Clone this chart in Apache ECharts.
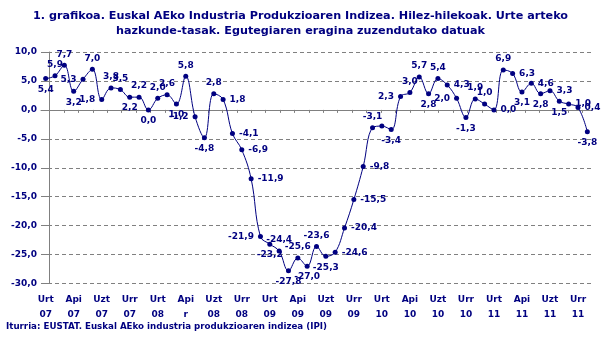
<!DOCTYPE html>
<html>
<head>
<meta charset="utf-8">
<script src="https://cdn.jsdelivr.net/npm/echarts@6/dist/echarts.min.js"></script>
<style>
  html, body { margin: 0; padding: 0; background: #fff; }
  #chart { width: 601px; height: 348px; }
</style>
</head>
<body>
<div id="chart"></div>
<script>
// Monthly periods, January 2007 to November 2011
const months = ['Urt', 'Ots', 'Mar', 'Api', 'Mai', 'Eka', 'Uzt', 'Abu', 'Ira', 'Urr', 'aza', 'Abe'];
const years = ['07', '08', '09', '10', '11'];

// Quarter tick labels shown under the axis
const tickLabels = [
  'Urt\n07', 'Api\n07', 'Uzt\n07', 'Urr\n07',
  'Urt\n08', 'Api\nr', 'Uzt\n08', 'Urr\n08',
  'Urt\n09', 'Api\n09', 'Uzt\n09', 'Urr\n09',
  'Urt\n10', 'Api\n10', 'Uzt\n10', 'Urr\n10',
  'Urt\n11', 'Api\n11', 'Uzt\n11', 'Urr\n11'
];

// Year-on-year growth rate of the industrial production index (%)
const rate2007 = [5.4, 5.9, 7.7, 3.2, 5.3, 7.0, 1.8, 3.8, 3.5, 2.2, 2.2, 0.0];
const rate2008 = [2.0, 2.6, 1.0, 5.8, -1.2, -4.8, 2.8, 1.8, -4.1, -6.9, -11.9, -21.9];
const rate2009 = [-23.2, -24.4, -27.8, -25.6, -27.0, -23.6, -25.3, -24.6, -20.4, -15.5, -9.8, -3.1];
const rate2010 = [-2.8, -3.4, 2.3, 3.0, 5.7, 2.8, 5.4, 4.3, 2.0, -1.3, 1.9, 1.0];
const rate2011 = [0.0, 6.9, 6.3, 3.1, 4.6, 2.8, 3.3, 1.5, 1.0, 0.4, -3.8];

// Points whose value label is not printed
const unlabeled = [36];

const values = [].concat(rate2007, rate2008, rate2009, rate2010, rate2011);
const categories = values.map((v, i) => months[i % 12] + ' ' + years[Math.floor(i / 12)]);

// Label placement for each point: [position, dx, dy]
const labelSide = [
  ['bottom', 0, 0], ['top', -7, 2], ['top', 0, 0], ['bottom', -4, 0], ['left', 0, 0],
  ['top', 0, 0], ['left', 0, 0], ['top', 0, 0], ['top', 4, 0], ['bottom', -6, 0],
  ['top', 0, 0], ['bottom', 0, 0], ['top', 0, 0], ['top', 3, 0], ['bottom', 0, 0],
  ['top', 0, 0], ['left', 0, 0], ['bottom', 0, 0], ['top', 0, 0], ['right', 0, 0],
  ['right', 0, 0], ['right', 0, 0], ['right', 0, 0], ['left', 0, 0], ['bottom', -10, 0],
  ['top', 3, 0], ['bottom', 0, 0], ['top', 0, 0], ['bottom', 10, 0], ['top', 0, 0],
  ['bottom', 2, 0], ['right', 0, 0], ['right', 0, 0], ['right', 0, 0], ['right', 0, 0],
  ['top', 0, 0], ['top', 0, 0], ['bottom', 0, 0], ['left', 0, 0], ['top', -5, 0],
  ['top', 0, 0], ['bottom', -6, 0], ['top', 1, 0], ['right', 0, 0], ['left', 0, 0],
  ['bottom', 0, 0], ['top', 0, 0], ['top', 3, 0], ['right', 0, 0], ['top', -12, 0],
  ['right', 0, 0], ['bottom', 7, 0], ['right', -6, -2], ['bottom', 2, 0], ['right', 0, -4],
  ['bottom', -4, 0], ['right', -2, -3], ['right', -4, 0], ['bottom', -10, 0]
];

const NAVY = '#000080';
const GREY = '#808080';
const FONT = 'DejaVu Sans';
const comma = v => v.toFixed(1).replace('.', ',');

const quarterIdx = tickLabels.map((_, k) => k * 3);

const seriesData = values.map((v, i) => {
  const s = labelSide[i];
  return {
    value: v,
    label: {
      show: unlabeled.indexOf(i) < 0,
      position: s[0],
      offset: [s[1], s[2]]
    }
  };
});

// Small tick marks along the zero line
const zeroTicks = [];
for (let k = 0; k <= 37; k++) zeroTicks.push(k);

const chart = echarts.init(document.getElementById('chart'), null, { renderer: 'canvas' });
chart.setOption({
  animation: false,
  backgroundColor: '#ffffff',
  textStyle: { fontFamily: FONT },
  title: {
    text: '1. grafikoa. Euskal AEko Industria Produkzioaren Indizea. Hilez-hilekoak. Urte arteko\nhazkunde-tasak. Egutegiaren eragina zuzendutako datuak',
    left: 'center',
    top: 4,
    textStyle: { color: NAVY, fontFamily: FONT, fontWeight: 'bold', fontSize: 11.2, lineHeight: 15 }
  },
  graphic: [{
    type: 'text',
    left: 6,
    top: 322,
    style: {
      text: 'Iturria: EUSTAT. Euskal AEko industria produkzioaren indizea (IPI)',
      fill: NAVY,
      font: 'bold 8.7px "DejaVu Sans"'
    }
  }],
  grid: { left: 41, right: 9, top: 52, bottom: 64.5, containLabel: false },
  xAxis: [{
    type: 'category',
    data: categories,
    position: 'bottom',
    boundaryGap: true,
    axisLine: { show: false, onZero: false },
    axisTick: { show: false },
    axisLabel: {
      interval: (i) => quarterIdx.indexOf(i) >= 0,
      formatter: (v, i) => tickLabels[i / 3],
      color: NAVY,
      fontFamily: FONT,
      fontWeight: 'bold',
      fontSize: 9,
      lineHeight: 15,
      margin: 9
    },
    splitLine: { show: false }
  }, {
    type: 'value',
    position: 'bottom',
    min: -0.6,
    max: 37.65,
    axisLine: { show: true, onZero: true, lineStyle: { color: GREY, width: 1 } },
    axisTick: { show: true, customValues: zeroTicks, length: 3, lineStyle: { color: GREY } },
    axisLabel: { show: false },
    splitLine: { show: false }
  }],
  yAxis: {
    type: 'value',
    min: -30,
    max: 10,
    interval: 5,
    axisLine: { show: true, lineStyle: { color: GREY, width: 1 } },
    axisTick: { show: true, length: 5, lineStyle: { color: GREY } },
    axisLabel: {
      formatter: comma,
      color: NAVY,
      fontFamily: FONT,
      fontWeight: 'bold',
      fontSize: 9,
      margin: 4
    },
    splitLine: { show: true, lineStyle: { color: GREY, type: [4, 3], width: 1 } }
  },
  series: [{
    type: 'line',
    xAxisIndex: 0,
    data: seriesData,
    smooth: 0.4,
    symbol: 'circle',
    symbolSize: 5,
    lineStyle: { color: NAVY, width: 1 },
    itemStyle: { color: NAVY },
    label: {
      show: true,
      formatter: p => comma(p.value),
      color: NAVY,
      fontFamily: FONT,
      fontWeight: 'bold',
      fontSize: 9,
      distance: 4
    },
    labelLayout: { hideOverlap: false }
  }]
});
</script>
</body>
</html>
